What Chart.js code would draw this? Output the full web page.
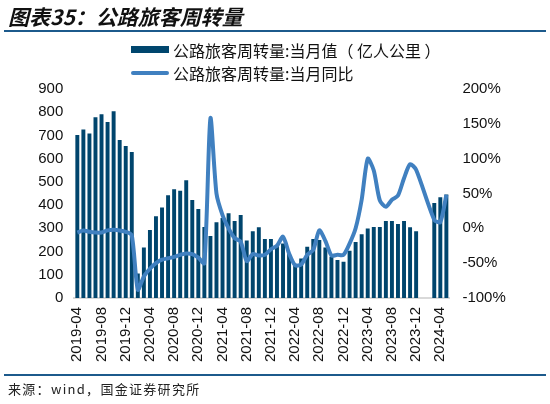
<!DOCTYPE html>
<html>
<head>
<meta charset="utf-8">
<script src="https://cdn.jsdelivr.net/npm/chart.js@4"></script>
<style>
  body { margin: 0; background: #fff; }
  #wrap { position: relative; width: 550px; height: 404px; overflow: hidden; }
  #chart { position: absolute; left: 0; top: 0; }
  .title { position: absolute; left: 8px; top: 1px; font: italic bold 21px "Noto Sans CJK SC", sans-serif; color: #111; }
  .rule { position: absolute; left: 4px; width: 542px; height: 2px; background: #1c5a8c; }
  .leg { position: absolute; left: 131px; font: 16px "Noto Sans CJK SC", sans-serif; color: #111; white-space: nowrap; }
  .leg span { position: absolute; left: 42px; top: -12px; }
  .sw-bar { position: absolute; left: 0; top: -4px; width: 38px; height: 7px; background: #00466e; }
  .sw-line { position: absolute; left: 0; top: -2px; width: 38px; height: 4px; border-radius: 2px; background: #4080c0; }
  .src { position: absolute; left: 8px; top: 379px; font: 13px "Noto Sans CJK SC", sans-serif; color: #222; letter-spacing: 1.3px; }
</style>
</head>
<body>
<div id="wrap">
  <canvas id="chart" width="550" height="404"></canvas>
  <div class="title">图表35：公路旅客周转量</div>
  <div class="rule" style="top:30px"></div>
  <div class="leg" style="top:50px"><div class="sw-bar"></div><span>公路旅客周转量:当月值（ 亿人公里 ）</span></div>
  <div class="leg" style="top:73px"><div class="sw-line"></div><span>公路旅客周转量:当月同比</span></div>
  <div class="rule" style="top:374px"></div>
  <div class="src">来源：wind，国金证券研究所</div>
</div>
<script>
// months, 2019-04 .. 2024-05
const months = [
  '2019-04','2019-05','2019-06','2019-07','2019-08','2019-09','2019-10','2019-11','2019-12',
  '2020-01','2020-02','2020-03','2020-04','2020-05','2020-06','2020-07','2020-08','2020-09','2020-10','2020-11','2020-12',
  '2021-01','2021-02','2021-03','2021-04','2021-05','2021-06','2021-07','2021-08','2021-09','2021-10','2021-11','2021-12',
  '2022-01','2022-02','2022-03','2022-04','2022-05','2022-06','2022-07','2022-08','2022-09','2022-10','2022-11','2022-12',
  '2023-01','2023-02','2023-03','2023-04','2023-05','2023-06','2023-07','2023-08','2023-09','2023-10','2023-11','2023-12',
  '2024-01','2024-02','2024-03','2024-04','2024-05'
];

// 当月值 (亿人公里)
const monthlyValue = [
  702, 726, 708, 778, 791, 758, 804, 680, 655,
  629, 106, 217, 293, 352, 390, 442, 468, 462, 507, 422, 383,
  306, 267, 326, 344, 365, 332, 357, 248, 287, 305, 254, 254,
  228, 235, 192, 147, 170, 221, 254, 250, 218, 178, 164, 156,
  204, 241, 274, 299, 306, 306, 332, 332, 319, 332, 305, 287,
  null, null, 409, 434, 446
];

// 当月同比 (%)
const yoy = [
  -6, -3, -5, -6, -6, -3, -2, -3, -5,
  -10, -88, -69, -58, -50, -45, -43, -41, -38, -36, -37, -42,
  -50, 158, 50, 19, 0, -14, -19, -47, -37, -39, -38, -30,
  -25, -12, -36, -53, -52, -38, -31, -3, -18, -39, -38, -38,
  -22, 0, 41, 100, 83, 40, 31, 41, 47, 72, 92, 84,
  null, null, 12, 9, 48
];

const axisFont = { family: '"Liberation Sans", Arial, sans-serif', size: 15 };

new Chart(document.getElementById('chart').getContext('2d'), {
  data: {
    labels: months,
    datasets: [
      {
        type: 'line',
        label: '公路旅客周转量:当月同比',
        data: yoy,
        yAxisID: 'y2',
        borderColor: '#4080c0',
        borderWidth: 4,
        pointRadius: 0,
        tension: 0.25,
        spanGaps: true,
        order: 0
      },
      {
        type: 'bar',
        label: '公路旅客周转量:当月值（亿人公里）',
        data: monthlyValue,
        yAxisID: 'y',
        backgroundColor: '#00456d',
        barPercentage: 0.65,
        categoryPercentage: 1,
        order: 1
      }
    ]
  },
  options: {
    responsive: false,
    animation: false,
    layout: { padding: { top: 89, bottom: 34, left: 0, right: 0 } },
    plugins: { legend: { display: false }, tooltip: { enabled: false } },
    scales: {
      x: {
        grid: { display: false, drawTicks: false },
        border: { display: true, color: '#d9d9d9', width: 2 },
        ticks: {
          autoSkip: false,
          maxRotation: 90,
          minRotation: 90,
          padding: 9,
          color: '#111',
          font: axisFont,
          callback: (v, i) => (i % 4 === 0 ? months[i] : '')
        },
        afterFit: s => { s.height = 72; }
      },
      y: {
        position: 'left',
        min: 0,
        max: 900,
        grid: { display: false, drawTicks: false },
        border: { display: false },
        ticks: { stepSize: 100, padding: 11, color: '#111', font: axisFont },
        afterFit: s => { s.width = 74.3; }
      },
      y2: {
        position: 'right',
        min: -100,
        max: 200,
        grid: { display: false, drawTicks: false },
        border: { display: false },
        ticks: { stepSize: 50, padding: 13, color: '#111', font: axisFont, callback: v => v + '%' },
        afterFit: s => { s.width = 100.6; }
      }
    }
  }
});
</script>
</body>
</html>
